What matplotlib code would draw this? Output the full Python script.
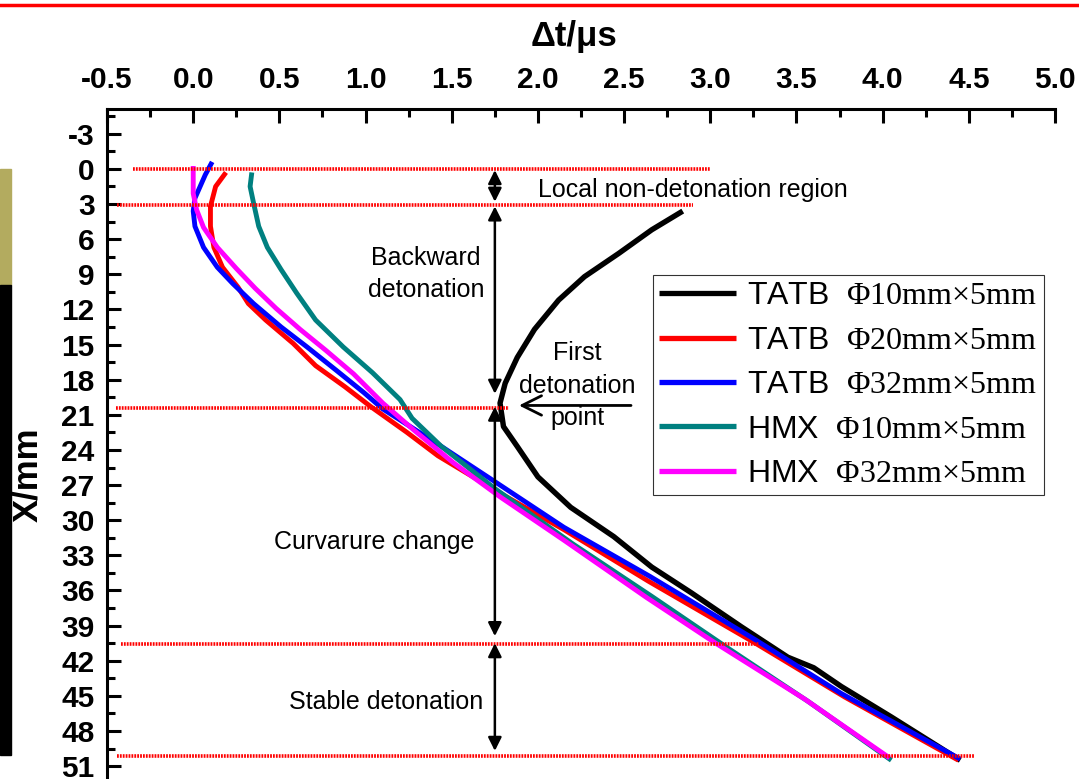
import matplotlib
matplotlib.use("Agg")
import matplotlib.pyplot as plt
from matplotlib.lines import Line2D
from matplotlib.patches import Rectangle
import numpy as np

plt.rcParams['font.family'] = ['Liberation Sans', 'DejaVu Sans']
plt.rcParams['mathtext.fontset'] = 'custom'
plt.rcParams['mathtext.rm'] = 'Liberation Serif'
plt.rcParams['axes.unicode_minus'] = False

# data: depth X (mm) and time dt (us)
tatb10_x = [3.6, 5.2, 7.2, 9.2, 11.2, 13.7, 16.1, 18.3, 20.0, 22.0, 23.7, 26.3,
            28.9, 31.4, 34.0, 36.2, 39.1, 41.7, 42.6, 44.2, 46.8, 50.5]
tatb10_t = [2.84, 2.66, 2.47, 2.27, 2.12, 1.98, 1.88, 1.81, 1.78, 1.80, 1.88, 2.00,
            2.19, 2.44, 2.66, 2.89, 3.18, 3.45, 3.60, 3.76, 4.05, 4.45]

tatb20_x = [0.3, 1.5, 3.2, 4.9, 6.7, 8.4, 10.1, 11.5, 12.9, 14.9, 16.8, 18.6, 20.3,
            22.5, 24.5, 27.6, 30.8, 35.2, 40.4, 45.1, 50.5]
tatb20_t = [0.19, 0.13, 0.10, 0.10, 0.12, 0.17, 0.26, 0.32, 0.42, 0.58, 0.71, 0.88, 1.03,
            1.24, 1.42, 1.77, 2.15, 2.64, 3.25, 3.78, 4.44]

tatb32_x = [-0.6, 0.5, 1.5, 2.5, 3.6, 4.9, 6.7, 8.4, 9.8, 11.5, 13.5, 15.2, 17.2,
            19.1, 20.5, 23.7, 26.9, 30.6, 34.8, 40.2, 44.8, 50.4]
tatb32_t = [0.11, 0.07, 0.04, 0.01, 0.0, 0.01, 0.06, 0.14, 0.23, 0.35, 0.51, 0.66, 0.83,
            0.99, 1.10, 1.44, 1.77, 2.15, 2.65, 3.26, 3.76, 4.45]

hmx10_x = [0.3, 1.5, 2.9, 4.9, 6.7, 8.6, 10.6, 12.9, 15.2, 17.4, 19.7, 21.3, 23.7,
           27.3, 32.0, 36.5, 41.0, 45.5, 50.5]
hmx10_t = [0.34, 0.33, 0.35, 0.38, 0.43, 0.51, 0.60, 0.71, 0.87, 1.04, 1.20, 1.27, 1.44,
           1.75, 2.20, 2.66, 3.11, 3.57, 4.05]

hmx32_x = [-0.25, 2.1, 3.5, 5.0, 6.7, 8.5, 10.2, 11.9, 13.7, 15.5, 17.5, 20.0, 22.3,
           25.1, 28.0, 31.7, 36.6, 40.4, 45.3, 50.3]
hmx32_t = [0.0, 0.0, 0.02, 0.06, 0.14, 0.25, 0.36, 0.48, 0.62, 0.77, 0.93, 1.10, 1.28,
           1.51, 1.78, 2.15, 2.63, 3.02, 3.55, 4.04]

labels = ['TATB  $\\mathrm{Φ10mm×5mm}$', 'TATB  $\\mathrm{Φ20mm×5mm}$',
          'TATB  $\\mathrm{Φ32mm×5mm}$', 'HMX  $\\mathrm{Φ10mm×5mm}$',
          'HMX  $\\mathrm{Φ32mm×5mm}$']
colors = ['black', '#ff0000', '#0000ff', '#008080', '#ff00ff']

# region boundaries (dotted red lines): depth, start and end in dt
bound_x = [0.0, 3.1, 20.4, 40.6, 50.1]
bound_t0 = [-0.35, -0.44, -0.45, -0.42, -0.44]
bound_t1 = [3.0, 2.9, 1.83, 3.28, 4.53]

# double arrows marking the regions
arrow_t = 1.75
arrow_x0 = [0.1, 3.2, 20.3, 40.5]
arrow_x1 = [2.8, 19.2, 39.9, 49.7]

fig = plt.figure(figsize=(10.79, 7.79), dpi=100)
ax = fig.add_axes([0.0992, 0.0, 0.8786, 0.8601])

series = [(tatb10_t, tatb10_x), (tatb20_t, tatb20_x), (tatb32_t, tatb32_x),
          (hmx10_t, hmx10_x), (hmx32_t, hmx32_x)]
for (t, x), c, lab in zip(series, colors, labels):
    ax.plot(t, x, color=c, lw=3.9 if c == 'black' else 3.5, label=lab,
            solid_capstyle='butt', solid_joinstyle='round', zorder=3)

for y, a, b in zip(bound_x, bound_t0, bound_t1):
    ax.plot([a, b], [y, y], color='#ff0000', lw=2.6, linestyle=(0, (0.5, 0.3)), zorder=4)

for a, b in zip(arrow_x0, arrow_x1):
    ax.annotate('', xy=(arrow_t, b), xytext=(arrow_t, a),
                arrowprops=dict(arrowstyle='<|-|>', color='black', lw=1.8,
                                mutation_scale=20, shrinkA=0, shrinkB=0), zorder=5)

ax.annotate('', xy=(1.89, 20.2), xytext=(2.54, 20.2),
            arrowprops=dict(arrowstyle='->', color='black', lw=2,
                            mutation_scale=35, shrinkA=0, shrinkB=0))

ax.text(2.0, 1.8, 'Local non-detonation region', ha='left', va='center', fontsize=18)
ax.text(1.35, 9.0, 'Backward\ndetonation', ha='center', va='center', fontsize=18, linespacing=1.42)
ax.text(2.23, 18.5, 'First\ndetonation\npoint', ha='center', va='center', fontsize=18, linespacing=1.45)
ax.text(1.05, 31.9, 'Curvarure change', ha='center', va='center', fontsize=18)
ax.text(1.12, 45.5, 'Stable detonation', ha='center', va='center', fontsize=18)

ax.set_xlim(-0.5, 5.0)
ax.set_ylim(52.1, -5.12)
ax.xaxis.tick_top()
ax.xaxis.set_label_position('top')
ax.set_xticks(np.arange(-0.5, 5.01, 0.5))
ax.set_xticklabels(['%.1f' % v for v in np.arange(-0.5, 5.01, 0.5)])
ax.set_xticks(np.arange(-0.25, 5.0, 0.5), minor=True)
ax.set_yticks(np.arange(-3, 52, 3))
ax.set_yticks(np.arange(-4.5, 52, 3), minor=True)

for s in ['right', 'bottom']:
    ax.spines[s].set_visible(False)
for s in ['top', 'left']:
    ax.spines[s].set_linewidth(2.2)

ax.tick_params(which='both', direction='in', width=2.2, top=True, bottom=False,
               right=False, left=True)
ax.tick_params(which='major', length=10)
ax.tick_params(which='minor', length=6)
ax.tick_params(axis='x', which='major', pad=10.5)
ax.tick_params(axis='y', which='major', pad=9)
for lab in ax.get_xticklabels() + ax.get_yticklabels():
    lab.set_fontsize(21.5)
    lab.set_fontweight('bold')

ax.set_xlabel('Δt/μs', fontsize=25, fontweight='bold', va='center')
ax.xaxis.set_label_coords((574 - 107) / 948, (779 - 37) / 670)
ax.set_ylabel('X/mm', fontsize=25, fontweight='bold', va='center')
ax.yaxis.set_label_coords((28 - 107) / 948, (779 - 475) / 670)

leg = ax.legend(loc='upper left', bbox_to_anchor=((653 - 107) / 948, 1 - (275 - 109) / 670),
                borderaxespad=0, fontsize=23, frameon=True, fancybox=False,
                handlelength=2.4, handletextpad=0.35, borderpad=0.2, labelspacing=0.45)
leg.get_frame().set_edgecolor('black')
leg.get_frame().set_linewidth(0.8)
for h in leg.get_lines():
    h.set_linewidth(3.8)

# slide decorations around the chart
fig.add_artist(Line2D([0, 1], [1 - 5 / 779] * 2, color='#ff0000', lw=2.5,
                      transform=fig.transFigure))
fig.add_artist(Rectangle((0, 1 - 285 / 779), 11 / 1079, 116 / 779, color='#b3ab5f',
                         transform=fig.transFigure))
fig.add_artist(Rectangle((0, 1 - 755 / 779), 11 / 1079, 470 / 779, color='black',
                         transform=fig.transFigure))

fig.savefig('out.png', dpi=100)
